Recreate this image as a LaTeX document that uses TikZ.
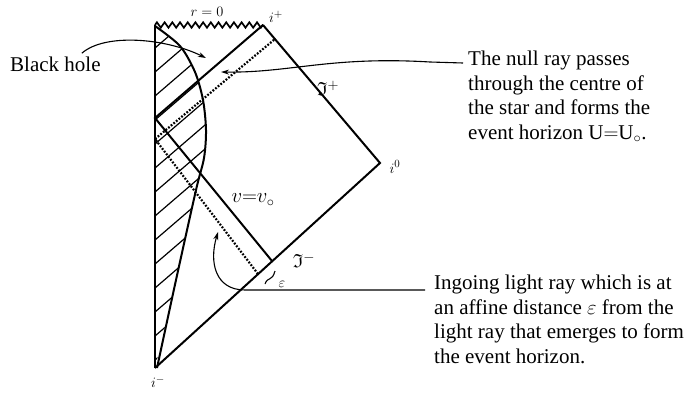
\documentclass[tikz,border=0pt]{standalone}
\usepackage{fontspec}
\setmainfont{Liberation Serif}
\usepackage{amssymb}
\usetikzlibrary{decorations.pathmorphing,arrows.meta,calc}
\begin{document}
\begin{tikzpicture}[x=1pt,y=-1pt,
  wl/.style={line width=2pt},
  axisline/.style={line width=2.6pt},
  ann/.style={line width=1.1pt},
  hatchline/.style={line width=1.2pt},
  arr/.style={ann,-{Stealth[length=8pt,width=5pt]}},
  lab/.style={inner sep=0pt},
  txt/.style={inner sep=0pt,align=left,font=\fontsize{21}{24.5}\selectfont}]
\useasboundingbox (0,0) rectangle (692,393);

% key points
\coordinate (top) at (155,25);
\coordinate (ip) at (263,25);
\coordinate (io) at (380,163);
\coordinate (im) at (155,368);
\coordinate (h0) at (155,118);
\coordinate (vj) at (272,261);
\coordinate (d0) at (155,139);
\coordinate (dj) at (258,274);
\coordinate (dp) at (275,39);

% hatched star interior
\begin{scope}
  \clip plot[smooth] coordinates {(155,368) (176,280) (196,190) (204,158) (206,130) (203,100) (195,72) (180,46) (155,26)} -- cycle;
  \foreach \y in {48,72,...,400}
    \draw[hatchline] (145,\y+8.6) -- (215,\y-51.6);
\end{scope}
% star surface
\draw[wl] plot[smooth] coordinates {(157,368) (176,280) (196,190) (204,158) (206,130) (203,100) (195,72) (180,46) (155,26)};

% axis r=0 and singularity
\draw[axisline] (im) -- (top);
\draw[wl,line width=1.7pt,decorate,decoration={zigzag,segment length=7.7pt,amplitude=2.7pt}] (top) -- (ip);

% boundaries
\draw[wl] (ip) -- (io) -- (im);

% v = v0 and horizon
\draw[wl] (vj) -- (h0) -- (ip);

% dotted ray
\draw[line width=2.2pt,dash pattern=on 1.8pt off 1.6pt] (dj) -- (d0) -- (dp);

% epsilon marker
\draw[ann] (265,284) .. controls (268,276) and (272,282) .. (275,271);

% labels
\node[lab,font=\fontsize{15}{15}\selectfont] (r0) at (207,12) {$r=0$};
\node[lab,font=\fontsize{15}{15}\selectfont] (lip) at (276,17) {$i^{+}$};
\node[lab,font=\fontsize{15}{15}\selectfont] (lio) at (395,167) {$i^{0}$};
\node[lab,font=\fontsize{15}{15}\selectfont] (lim) at (158,382) {$i^{-}$};
\node[lab,font=\fontsize{19}{19}\selectfont] (jp) at (328,88) {$\mathfrak{I}^{+}$};
\node[lab,font=\fontsize{19}{19}\selectfont] (jm) at (304,260) {$\mathfrak{I}^{-}$};
\node[lab,font=\fontsize{21}{21}\selectfont] (vv) at (253,200) {$v{=}v_{\circ}$};
\node[lab,font=\fontsize{15}{15}\selectfont] (eps) at (282,284) {$\varepsilon$};

% texts
\node[txt,anchor=base west] (bh) at (10,72) {Black hole};
\node[txt,anchor=north west] (nr) at (468,51) {The null ray passes\\through the centre of\\the star and forms the\\event horizon U$=$U$_{\circ}$.};
\node[txt,anchor=north west] (ig) at (434,275) {Ingoing light ray which is at\\an affine distance $\varepsilon$ from the\\light ray that emerges to form\\the event horizon.};

% annotation arrows
\coordinate (bht) at (206,58);
\coordinate (nrt) at (221,72);
\coordinate (igt) at (218,232);
\draw[arr] ($(bh.north east)+(-19,-4)$) .. controls (105,33) and (165,38) .. (bht);
\draw[arr] ($(nr.north west)+(-5,12)$) -- (430,62) .. controls (330,56) and (290,73) .. (nrt);
\draw[arr] ($(ig.north west)+(-9,15)$) -- (245,290) .. controls (215,290) and (209,262) .. (igt);
\end{tikzpicture}
\end{document}
